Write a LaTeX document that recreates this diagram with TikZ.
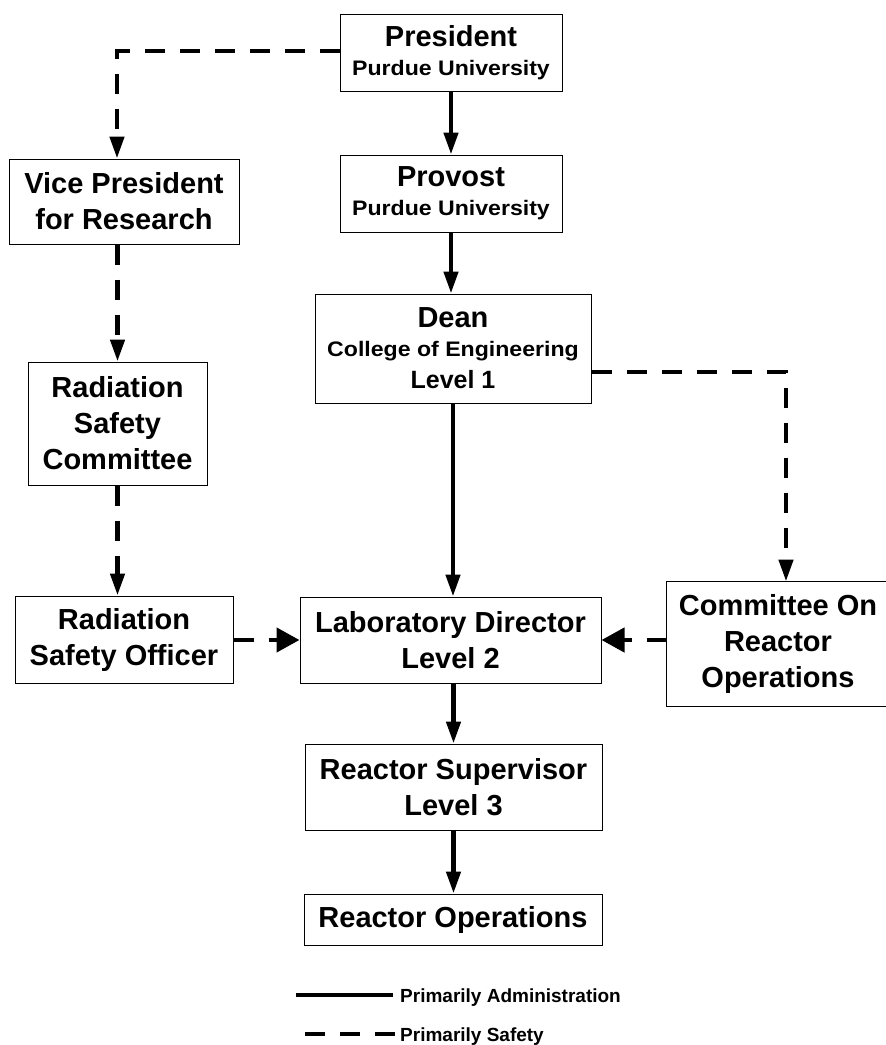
\documentclass[tikz,border=0pt]{standalone}
\usepackage{fontspec}
\setmainfont{Liberation Sans}
\newfontfamily\subfnt{Liberation Sans}[FakeStretch=1.1]
\usetikzlibrary{arrows.meta}
\begin{document}
\begin{tikzpicture}[x=1pt,y=-1pt,
  box/.style={draw, line width=1pt, inner sep=0pt, align=center,
    font=\bfseries\fontsize{29}{36}\selectfont},
  tbox/.style={box, font=\bfseries\fontsize{29}{29}\selectfont},
  adm/.style={line width=4.5pt, -{Triangle[length=22pt,width=14pt]}},
  saf/.style={line width=4.5pt, dash pattern=on 20pt off 15pt, -{Triangle[length=22pt,width=14pt]}},
  safh/.style={line width=4.5pt, dash pattern=on 20pt off 15pt, -{Triangle[length=23pt,width=24pt]}},
  legtext/.style={anchor=west, inner sep=0pt, font=\bfseries\fontsize{19}{19}\selectfont}
]
\useasboundingbox[fill=white] (0,0) rectangle (886,1045);

% boxes
\node[tbox, minimum width=222pt, minimum height=77pt] (pres) at (451,52.5)
  {President\\\subfnt\fontsize{21}{29}\selectfont Purdue University};
\node[tbox, minimum width=222pt, minimum height=77pt] (prov) at (451,193.5)
  {Provost\\\subfnt\fontsize{21}{29}\selectfont Purdue University};
\node[box, minimum width=230pt, minimum height=85pt] (vp) at (124,201.5)
  {Vice President\\for Research};
\node[tbox, minimum width=276pt, minimum height=109pt] (dean) at (453,348.5)
  {Dean\\{\subfnt\fontsize{21}{29}\selectfont College of Engineering}\\[3pt]\fontsize{25}{29}\selectfont Level 1};
\node[box, minimum width=179pt, minimum height=123pt] (rsc) at (117.5,423.5)
  {Radiation\\Safety\\Committee};
\node[box, minimum width=218pt, minimum height=87pt] (rso) at (124,639.5)
  {Radiation\\Safety Officer};
\node[box, minimum width=301pt, minimum height=86pt] (lab) at (450.5,640)
  {Laboratory Director\\Level 2};
\node[box, draw=none, minimum width=222pt, minimum height=124pt] (com) at (778,644)
  {Committee On\\Reactor\\Operations};
\draw[line width=1pt] (com.north east) ++(20,0) -- (com.north west)
  -- (com.south west) -- ([xshift=20pt]com.south east);
\node[box, minimum width=297pt, minimum height=86pt] (rs) at (453.5,787)
  {Reactor Supervisor\\Level 3};
\node[box, minimum width=298pt, minimum height=51pt] (ro) at (453,919.5)
  {Reactor Operations};

% connectors
\coordinate (c1) at (117,51);
\coordinate (c2) at (786,372);
\draw[adm] (pres.south) -- (prov.north);
\draw[adm] (prov.south) -- (prov.south |- dean.north);
\draw[saf] (pres.west |- c1) -- (c1) -- (c1 |- vp.north);
\draw[saf] (vp.south -| rsc.north) -- (rsc.north);
\draw[saf] (rsc.south) -- (rso.north -| rsc.south);
\draw[safh] (rso.east |- lab.west) -- (lab.west);
\draw[adm] (dean.south) -- (lab.north -| dean.south);
\draw[saf] (dean.east |- c2) -- (c2) -- (c2 |- com.north);
\draw[safh] (com.west |- lab.east) -- (lab.east);
\draw[adm] (lab.south -| rs.north) -- (rs.north);
\draw[adm] (rs.south) -- (ro.north -| rs.south);

% legend
\node[legtext] (ladm) at (400,997.5) {Primarily Administration};
\node[legtext] (lsaf) at (400,1037) {Primarily Safety};
\coordinate (la) at (296,995);
\coordinate (lb) at (305,1034);
\draw[line width=4.5pt] (la) -- (la -| 393,0);
\draw[line width=4.5pt, dash pattern=on 20pt off 15pt] (lb) -- (lb -| 395,0);
\end{tikzpicture}
\end{document}
